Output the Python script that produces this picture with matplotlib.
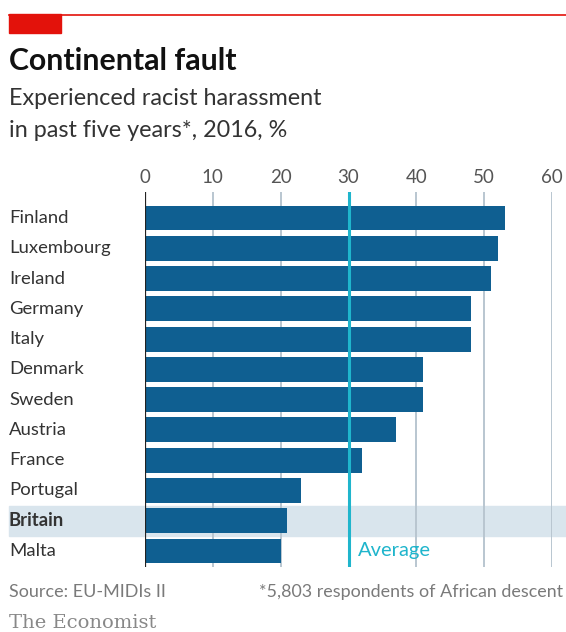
import numpy as np
import matplotlib
matplotlib.use("Agg")
import matplotlib.pyplot as plt
from matplotlib.patches import Rectangle
from matplotlib.transforms import blended_transform_factory

countries = ["Finland", "Luxembourg", "Ireland", "Germany", "Italy", "Denmark",
             "Sweden", "Austria", "France", "Portugal", "Britain", "Malta"]
values = [53, 52, 51, 48, 48, 41, 41, 37, 32, 23, 21, 20]
ticks = [0, 10, 20, 30, 40, 50, 60]
average = 30
highlight = "Britain"

W, H = 566, 632
BAR = "#0f5f91"
CYAN = "#1fb5cc"
GRID = "#b9c6d0"
TXT = "#333333"
GREY = "#7a7a7a"

plt.rcParams["font.family"] = ["Lato", "DejaVu Sans"]

fig = plt.figure(figsize=(W / 100, H / 100), dpi=100)

def fx(x):
    return x / W

def fy(y):
    return 1 - y / H

# plot area: x=0 at 145px, x=60 at 552px; top 192px, bottom 567px
ax = fig.add_axes([fx(145), fy(567), fx(552) - fx(145), fy(192) - fy(567)])
y = np.arange(len(countries))
ax.barh(y, values, height=0.82, color=BAR, zorder=2)
ax.set_xlim(0, 60)
ax.set_ylim(11.53, -0.86)

for t in ticks[1:]:
    ax.axvline(t, color=GRID, lw=1.4, zorder=1)
ax.axvline(0, color="#222222", lw=1.6, zorder=3)
ax.axvline(average, color=CYAN, lw=2.2, zorder=4)
ax.text(average + 1.4, 11, "Average", color=CYAN, fontsize=14.5, va="center", ha="left")

hi = countries.index(highlight)
ax.axhspan(hi - 0.5, hi + 0.5, xmin=(9 - 145) / 407, xmax=(566 - 145) / 407,
           color="#d9e5ed", zorder=0, clip_on=False)

ax.xaxis.tick_top()
ax.set_xticks(ticks)
ax.set_xticklabels([str(t) for t in ticks], fontsize=13.5, color="#555555")
ax.tick_params(axis="x", length=0, pad=4)
ax.set_yticks([])
for s in ax.spines.values():
    s.set_visible(False)
ax.patch.set_visible(False)

lab_tr = blended_transform_factory(fig.transFigure, ax.transData)
for i, c in enumerate(countries):
    ax.text(fx(9), i, c, transform=lab_tr, fontsize=13.3, color=TXT,
            va="center", ha="left",
            fontweight="bold" if c == highlight else "normal")

# header
fig.add_artist(plt.Line2D([fx(9), fx(566)], [fy(14.5), fy(14.5)], color="#e3120b", lw=1.2))
fig.add_artist(Rectangle((fx(9), fy(33)), fx(61) - fx(9), fy(14.5) - fy(33),
                         color="#e3120b", transform=fig.transFigure))
fig.text(fx(9), fy(70.5), "Continental fault", fontsize=21.8, fontweight="bold",
         color="#111111", va="baseline")
fig.text(fx(9), fy(105), "Experienced racist harassment", fontsize=16.8,
         color=TXT, va="baseline")
fig.text(fx(9), fy(137), "in past five years*, 2016, %", fontsize=16.8,
         color=TXT, va="baseline")

# footer
fig.text(fx(9), fy(592), "Source: EU-MIDIs II", fontsize=13, color=GREY, va="center")
fig.text(fx(563), fy(592), "*5,803 respondents of African descent", fontsize=12.9,
         color=GREY, va="center", ha="right")
fig.text(fx(9), fy(623), "The Economist", fontsize=14, color="#888888",
         family="DejaVu Serif", va="center")

fig.savefig("out.png", dpi=100)
